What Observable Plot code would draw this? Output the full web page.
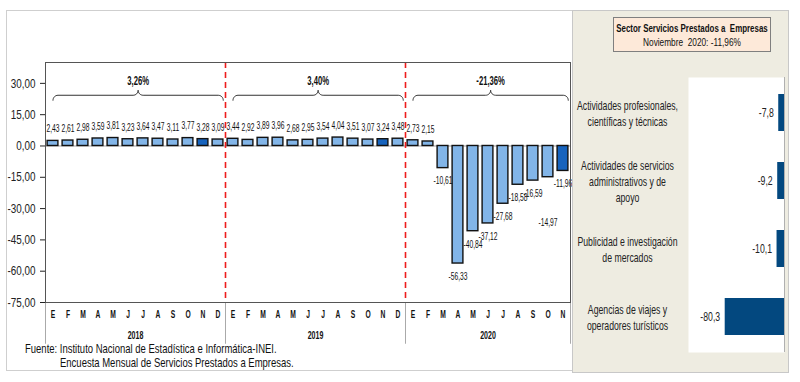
<!DOCTYPE html>
<html><head><meta charset="utf-8">
<script src="https://cdn.jsdelivr.net/npm/d3@7"></script>
<script src="https://cdn.jsdelivr.net/npm/@observablehq/plot@0.6"></script>
<style>
body{margin:0;background:#fff;}
#wrap{position:relative;width:800px;height:382px;overflow:hidden;font-family:"Liberation Sans",Arial,sans-serif;color:#111;}
#leftBorder{position:absolute;left:6px;top:10px;width:567px;height:361px;border:1px solid #cfcfcf;box-sizing:border-box;}
#left{position:absolute;left:0;top:0;}
#rightPanel{position:absolute;left:572px;top:10px;width:217px;height:363px;background:#eeece1;border:1px solid #c8c8c8;box-sizing:border-box;}
#right{position:absolute;left:572px;top:10px;}
#legend{position:absolute;left:613px;top:17px;width:158px;height:35px;background:#fde9d9;border:1px solid #7f7f7f;box-sizing:border-box;}
#legendText{position:absolute;left:50%;top:3px;transform:translateX(-50%) scaleX(0.72);white-space:nowrap;text-align:center;font-size:11.5px;line-height:14px;color:#111;}
#legendText b{display:block;font-size:11px;}
.foot{position:absolute;font-size:13px;white-space:nowrap;color:#111;transform:scaleX(0.73);transform-origin:0 50%;}
</style></head>
<body>
<div id="wrap">
  <div id="leftBorder"></div>
  <div id="left"></div>
  <div id="rightPanel"></div>
  <div id="right"></div>
  <div id="legend"><div id="legendText"><b>Sector Servicios Prestados a&nbsp; Empresas</b>Noviembre&nbsp; 2020: -11,96%</div></div>
  <div class="foot" style="left:25px;top:341px;">Fuente: Instituto Nacional de Estadística e Informática-INEI.</div>
  <div class="foot" style="left:60px;top:355px;">Encuesta Mensual de Servicios Prestados a Empresas.</div>
</div>
<script>
// ---------- data ----------
const monthLetters = ["E","F","M","A","M","J","J","A","S","O","N","D"];
const years = ["2018","2019","2020"];
const values2018 = [2.43, 2.61, 2.98, 3.59, 3.81, 3.23, 3.64, 3.47, 3.11, 3.77, 3.28, 3.09];
const values2019 = [3.44, 2.92, 3.89, 3.96, 2.68, 2.95, 3.54, 4.04, 3.51, 3.07, 3.24, 3.48];
const values2020 = [2.73, 2.15, -10.61, -56.33, -40.84, -37.12, -27.68, -18.58, -16.59, -14.97, -11.96];
const yearRates = ["3,26%", "3,40%", "-21,36%"];
const yTicks = [-75, -60, -45, -30, -15, 0, 15, 30];

const sectors = [
  "Actividades profesionales,\ncientíficas y técnicas",
  "Actividades de servicios\nadministrativos y de\napoyo",
  "Publicidad e investigación\nde mercados",
  "Agencias de viajes y\noperadores turísticos"
];
const sectorValues = [-7.8, -9.2, -10.1, -80.3];

// ---------- build rows ----------
const series = [values2018, values2019, values2020];
const rows = [];
series.forEach((vals, yi) => vals.forEach((v, m) => rows.push({i: rows.length, m, year: years[yi], value: v})));
const yearSpans = years.map((y, yi) => {
  const r = rows.filter(d => d.year === y);
  return {year: y, i0: r[0].i, i1: r[r.length - 1].i, rate: yearRates[yi]};
});
const fmt2 = v => v.toFixed(2).replace(".", ",");
const fmt1 = v => v.toFixed(1).replace(".", ",");

const yMin = -75, yMax = 40;
const pxPerX = 15, pxPerY = 240 / (yMax - yMin);

// brace points (data coordinates derived from year spans)
const braceY = 24.3, rPx = 5;
const rx = rPx / pxPerX, ry = rPx / pxPerY;
const brace = [];
yearSpans.forEach(s => {
  const a = s.i0 + 0.5, b = s.i1 + 0.85, m = (a + b) / 2;
  const arc = (cx, cy, t0, t1) => { for (let k = 0; k <= 8; k++) { const t = t0 + (t1 - t0) * k / 8; brace.push({year: s.year, x: cx + rx * Math.cos(t), y: cy + ry * Math.sin(t)}); } };
  arc(a + rx, braceY - ry, Math.PI, Math.PI / 2);
  arc(m - rx, braceY + ry, -Math.PI / 2, 0);
  arc(m + rx, braceY + ry, Math.PI, Math.PI / 2 * 3);
  arc(b - rx, braceY - ry, Math.PI / 2, 0);
});

const light = "#82b5e8", dark = "#1763bd";
const bounds = [0, 12, 24, rows.length];
const negRows = rows.filter(d => d.value < 0);
const special = negRows.filter(d => d.year === "2020" && d.m === 9);
const normalNeg = negRows.filter(d => !(d.year === "2020" && d.m === 9));

// condense text horizontally (the reference uses a narrow face)
function condense(svg, s, axisS) {
  svg.querySelectorAll("text").forEach(t => {
    const g = t.closest("g[aria-label]");
    const isAxis = (g && /tick label/.test(g.getAttribute("aria-label"))) || t.closest("g.tick");
    const f = isAxis ? axisS : s;
    let tr = t.getAttribute("transform") || "";
    const x = t.getAttribute("x");
    if (x !== null && !isNaN(+x) && +x !== 0) { tr += ` translate(${x},0)`; t.setAttribute("x", 0); }
    t.setAttribute("transform", `${tr} scale(${f},1)`);
  });
}

const font = "'Liberation Sans',Arial,sans-serif";
const left = Plot.plot({
  width: 575, height: 370,
  marginLeft: 45, marginRight: 5, marginTop: 62, marginBottom: 68,
  style: {background: "transparent", fontFamily: font, fontSize: "13px", color: "#222"},
  x: {domain: [0, rows.length], axis: null},
  y: {domain: [yMin, yMax], ticks: yTicks, tickFormat: fmt2, tickSize: 5, tickPadding: 5, label: null},
  marks: [
    Plot.ruleY([0], {stroke: "#9a9a9a"}),
    Plot.rectY(rows, {x1: d => d.i + 0.14, x2: d => d.i + 0.86, y1: 0, y2: "value",
      fill: d => d.m === 10 ? dark : light, stroke: "#111", strokeWidth: 1.4}),
    Plot.text(rows.filter(d => d.value >= 0), {x: d => d.i + 0.5, y: "value", text: d => fmt2(d.value), dy: -12, fontSize: 10.5, fill: "#111"}),
    Plot.text(normalNeg, {x: d => d.i + 0.5, y: "value", text: d => fmt2(d.value), dy: 13, fontSize: 10.5, fill: "#111"}),
    Plot.text(special, {x: d => d.i + 0.5, y: "value", text: d => fmt2(d.value), dy: 45, fontSize: 10.5, fill: "#111"}),
    Plot.ruleX([12, 24], {stroke: "#ee1c1c", strokeWidth: 1.6, strokeDasharray: "6,4"}),
    Plot.line(brace, {x: "x", y: "y", z: "year", stroke: "#333", strokeWidth: 1}),
    Plot.text(yearSpans, {x: d => (d.i0 + 0.5 + d.i1 + 0.85) / 2, y: 31, text: "rate", fontWeight: "bold", fontSize: 12, fill: "#111"}),
    Plot.text(rows, {x: d => d.i + 0.5, frameAnchor: "bottom", dy: 15, text: d => monthLetters[d.m], fontWeight: "bold", fontSize: 10.5, fill: "#111"}),
    Plot.text(yearSpans, {x: d => (d.i0 + d.i1 + 1) / 2, frameAnchor: "bottom", dy: 36, text: "year", fontWeight: "bold", fontSize: 11, fill: "#111"}),
    Plot.ruleX(bounds, {y1: yMin, y2: yMin - 20, stroke: "#aaa"}),
    Plot.frame({stroke: "#555"})
  ]
});
condense(left, 0.64, 0.76);
document.getElementById("left").appendChild(left);

const sectorRows = sectors.map((s, k) => ({sector: s, value: sectorValues[k]}));
const right = Plot.plot({
  width: 217, height: 362,
  marginLeft: 116, marginRight: 5, marginTop: 67, marginBottom: 20,
  style: {background: "transparent", fontFamily: font, fontSize: "13px", color: "#222"},
  x: {domain: [-130, 0], axis: null},
  y: {domain: sectors, axis: null, paddingInner: 0.46, paddingOuter: 0.23},
  marks: [
    Plot.frame({fill: "white", stroke: null}),
    Plot.barX(sectorRows, {x: "value", y: "sector", fill: "#03487f"}),
    Plot.text(sectorRows, {x: "value", y: "sector", text: d => fmt1(d.value), textAnchor: "end", dx: -5, fontSize: 13, fill: "#222"}),
    Plot.text(sectorRows, {y: "sector", frameAnchor: "left", dx: -61, text: "sector", textAnchor: "middle", lineHeight: 1.25, fontSize: 13, fill: "#222"}),
    Plot.ruleX([0], {stroke: "#b0b0b0"}),
    Plot.ruleY([-130], {x1: -130, x2: 0, stroke: "#aaa", strokeDasharray: "1,1"})
  ]
});
condense(right, 0.67, 0.67);
document.getElementById("right").appendChild(right);
</script>
</body></html>
